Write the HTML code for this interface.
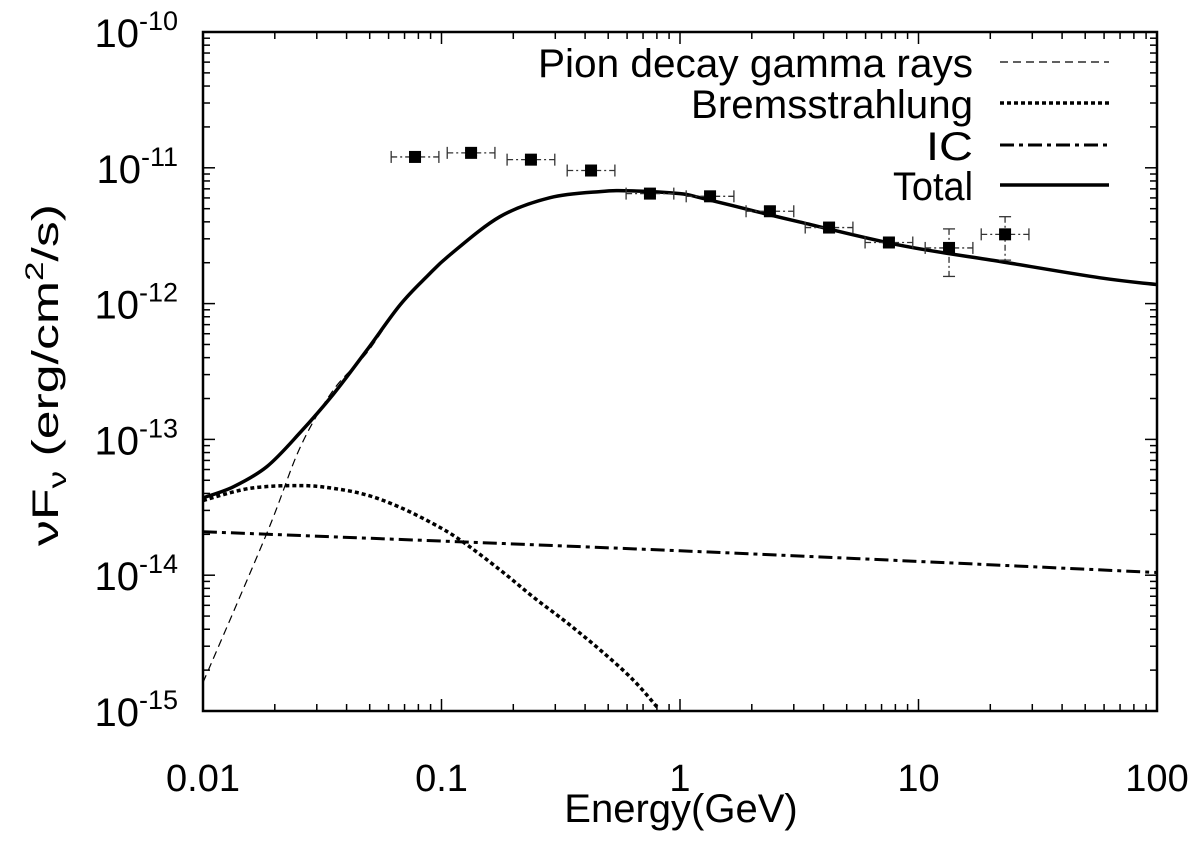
<!DOCTYPE html>
<html><head><meta charset="utf-8"><style>
html,body{margin:0;padding:0;background:#fff}
svg text{font-family:"Liberation Sans",sans-serif;fill:#000}
</style></head><body>
<svg id="chart" width="1200" height="837" xmlns="http://www.w3.org/2000/svg">
<g id="axes"></g>
<g id="curves"></g>
<g id="points"></g>
<g id="legend"></g>
<text x="681" y="822" font-size="40" text-anchor="middle">Energy(GeV)</text>
<g transform="translate(58,375) rotate(-90)">
<text transform="scale(1.4,1)" font-size="37" text-anchor="middle">νF<tspan font-size="25" dy="8">ν</tspan><tspan dy="-8"> (erg/cm</tspan><tspan font-size="25" dy="-15">2</tspan><tspan dy="15">/s)</tspan></text>
</g>
</svg>
<script>
// log10 energies (GeV) and log10 flux (erg/cm2/s)
const pionLogE = [-2.0,-1.732,-1.593,-1.455,-1.312,-1.174,-1.061,-0.964,-0.755,-0.545,-0.335,-0.2,0.0,0.084,0.293,0.503,0.922,1.342,1.761,2.0];
const pionLogF = [-14.79,-13.69,-13.06,-12.64,-12.36,-12.01,-11.80,-11.64,-11.36,-11.22,-11.175,-11.17,-11.19,-11.22,-11.31,-11.40,-11.57,-11.69,-11.81,-11.86];
const totalLogE = [-2.0,-1.874,-1.732,-1.593,-1.455,-1.312,-1.174,-1.061,-0.964,-0.755,-0.545,-0.335,-0.2,0.0,0.084,0.293,0.503,0.922,1.342,1.761,2.0];
const totalLogF = [-13.43,-13.35,-13.20,-12.95,-12.67,-12.34,-12.01,-11.80,-11.64,-11.36,-11.22,-11.175,-11.17,-11.19,-11.22,-11.31,-11.40,-11.57,-11.69,-11.81,-11.86];
const bremLogE = [-2.0,-1.803,-1.593,-1.455,-1.312,-1.174,-1.036,-0.922,-0.755,-0.616,-0.474,-0.335,-0.197,-0.092];
const bremLogF = [-13.45,-13.36,-13.34,-13.36,-13.41,-13.50,-13.62,-13.74,-13.96,-14.16,-14.35,-14.55,-14.77,-14.98];
const icLogE = [-2.0,0.0,2.0];
const icLogF = [-13.68,-13.82,-13.98];
const ptLogE = [-1.111,-0.876,-0.625,-0.373,-0.126,0.126,0.377,0.625,0.876,1.128,1.363];
const ptLogF = [-10.92,-10.89,-10.94,-11.02,-11.19,-11.21,-11.32,-11.44,-11.55,-11.59,-11.49];
const ptErrLo = [0.02,0.02,0.02,0.02,0.02,0.02,0.03,0.03,0.03,0.21,0.19];
const ptErrHi = [0.02,0.02,0.02,0.02,0.02,0.02,0.03,0.03,0.03,0.14,0.13];
const xTickLabels = ["0.01","0.1","1","10","100"];
const yTickExps = ["-10","-11","-12","-13","-14","-15"];

const X0=203,X1=1157,Y0=32,Y1=711;
const sx = le => X0 + (le+2)/4*(X1-X0);
const sy = lf => Y0 + (-10-lf)/5*(Y1-Y0);
const NS="http://www.w3.org/2000/svg";
function mk(tag, attrs, parent){const e=document.createElementNS(NS,tag);for(const k in attrs)e.setAttribute(k,attrs[k]);parent.appendChild(e);return e;}

const axes=document.getElementById('axes');
const frame=mk('rect',{x:X0,y:Y0,width:X1-X0,height:Y1-Y0,fill:'none',stroke:'#000','stroke-width':2.5},axes);


for(let d=0; d<4; d++){
  for(let m=1;m<10;m++){
    const x=sx(d-2+Math.log10(m)); const L=m===1?12:7;
    const t1=mk('line',{x1:x,y1:Y1,x2:x,y2:Y1-L,stroke:'#000','stroke-width':1.5},axes);
    
    
    const t2=mk('line',{x1:x,y1:Y0,x2:x,y2:Y0+L,stroke:'#000','stroke-width':1.5},axes);
    
    
  }
}
xTickLabels.forEach((s,i)=>{
  const t=mk('text',{x:sx(i-2),y:791,'font-size':38,'text-anchor':'middle'},axes);
  t.textContent=s;
  
  
});
for(let d=0; d<5; d++){
  for(let m=1;m<10;m++){
    const y=sy(-15+d+Math.log10(m)); const L=m===1?12:7;
    if(m===1 && d===0) continue;
    const t1=mk('line',{x1:X0,y1:y,x2:X0+L,y2:y,stroke:'#000','stroke-width':1.5},axes);
    
    
    const t2=mk('line',{x1:X1,y1:y,x2:X1-L,y2:y,stroke:'#000','stroke-width':1.5},axes);
    
    
  }
}
yTickExps.forEach((s,i)=>{
  const t=mk('text',{x:178,y:sy(-10-i)+15,'font-size':40,'text-anchor':'end'},axes);
  
  
  const a=document.createElementNS(NS,'tspan');a.textContent='10';t.appendChild(a);
  const b=document.createElementNS(NS,'tspan');b.setAttribute('font-size','27');b.setAttribute('dy','-17');b.textContent=s;t.appendChild(b);
});

const curves=document.getElementById('curves');
function path(le,lf){
  const P=le.map((v,i)=>[sx(v),sy(lf[i])]);
  let d='M'+P[0][0].toFixed(1)+','+P[0][1].toFixed(1);
  for(let i=0;i<P.length-1;i++){
    const p0=P[i-1]||P[i],p1=P[i],p2=P[i+1],p3=P[i+2]||P[i+1];
    const c1=[p1[0]+(p2[0]-p0[0])/6,p1[1]+(p2[1]-p0[1])/6];
    const c2=[p2[0]-(p3[0]-p1[0])/6,p2[1]-(p3[1]-p1[1])/6];
    d+=' C'+c1[0].toFixed(1)+','+c1[1].toFixed(1)+' '+c2[0].toFixed(1)+','+c2[1].toFixed(1)+' '+p2[0].toFixed(1)+','+p2[1].toFixed(1);
  }
  return d;
}
const styles={
  pion:{stroke:'#000','stroke-width':1.2,'stroke-dasharray':'8,5',fill:'none'},
  brem:{stroke:'#000','stroke-width':3.5,'stroke-dasharray':'4,3',fill:'none'},
  ic:{stroke:'#000','stroke-width':3,'stroke-dasharray':'14,5,4,5',fill:'none'},
  total:{stroke:'#000','stroke-width':3.5,fill:'none'}
};
const clip=mk('clipPath',{id:'pc'},curves);mk('rect',{x:X0,y:Y0,width:X1-X0,height:Y1-Y0},clip);
const pIC=mk('path',Object.assign({d:path(icLogE,icLogF),'clip-path':'url(#pc)'},styles.ic),curves);


const pB=mk('path',Object.assign({d:path(bremLogE,bremLogF),'clip-path':'url(#pc)'},styles.brem),curves);


const pP=mk('path',Object.assign({d:path(pionLogE,pionLogF),'clip-path':'url(#pc)'},styles.pion),curves);


const pT=mk('path',Object.assign({d:path(totalLogE,totalLogF),'clip-path':'url(#pc)'},styles.total),curves);



const pts=document.getElementById('points');
ptLogE.forEach((le,i)=>{
  const g=mk('g',{},pts);
  
  
  const x=sx(le),y=sy(ptLogF[i]),xl=sx(le-0.1),xr=sx(le+0.1),yt=sy(ptLogF[i]+ptErrHi[i]),yb=sy(ptLogF[i]-ptErrLo[i]);
  const st={stroke:'#333','stroke-width':1.3,'stroke-dasharray':'6,3,2,3'};
  mk('line',Object.assign({x1:xl,y1:y,x2:xr,y2:y},st),g);
  mk('line',Object.assign({x1:x,y1:yt,x2:x,y2:yb},st),g);
  mk('line',{x1:xl,y1:y-6,x2:xl,y2:y+6,stroke:'#333','stroke-width':1.3},g);
  mk('line',{x1:xr,y1:y-6,x2:xr,y2:y+6,stroke:'#333','stroke-width':1.3},g);
  mk('line',{x1:x-6,y1:yt,x2:x+6,y2:yt,stroke:'#333','stroke-width':1.3},g);
  mk('line',{x1:x-6,y1:yb,x2:x+6,y2:yb,stroke:'#333','stroke-width':1.3},g);
  mk('rect',{x:x-6,y:y-6,width:12,height:12,fill:'#000'},g);
});

const lg=document.getElementById('legend');
const entries=[["Pion decay gamma rays",'pion',62,435],["Bremsstrahlung",'brem',103,282],["IC",'ic',145,47],["Total",'total',185,80]];
entries.forEach(([label,key,y,w])=>{
  const g=mk('g',{},lg);
  
  
  const t=mk('text',{x:973,y:y+15,'font-size':40,'text-anchor':'end',textLength:w,lengthAdjust:'spacingAndGlyphs'},g);
  t.textContent=label;
  mk('line',Object.assign({x1:1000,y1:y,x2:1109,y2:y},styles[key]),g);
});
</script>
</body></html>
